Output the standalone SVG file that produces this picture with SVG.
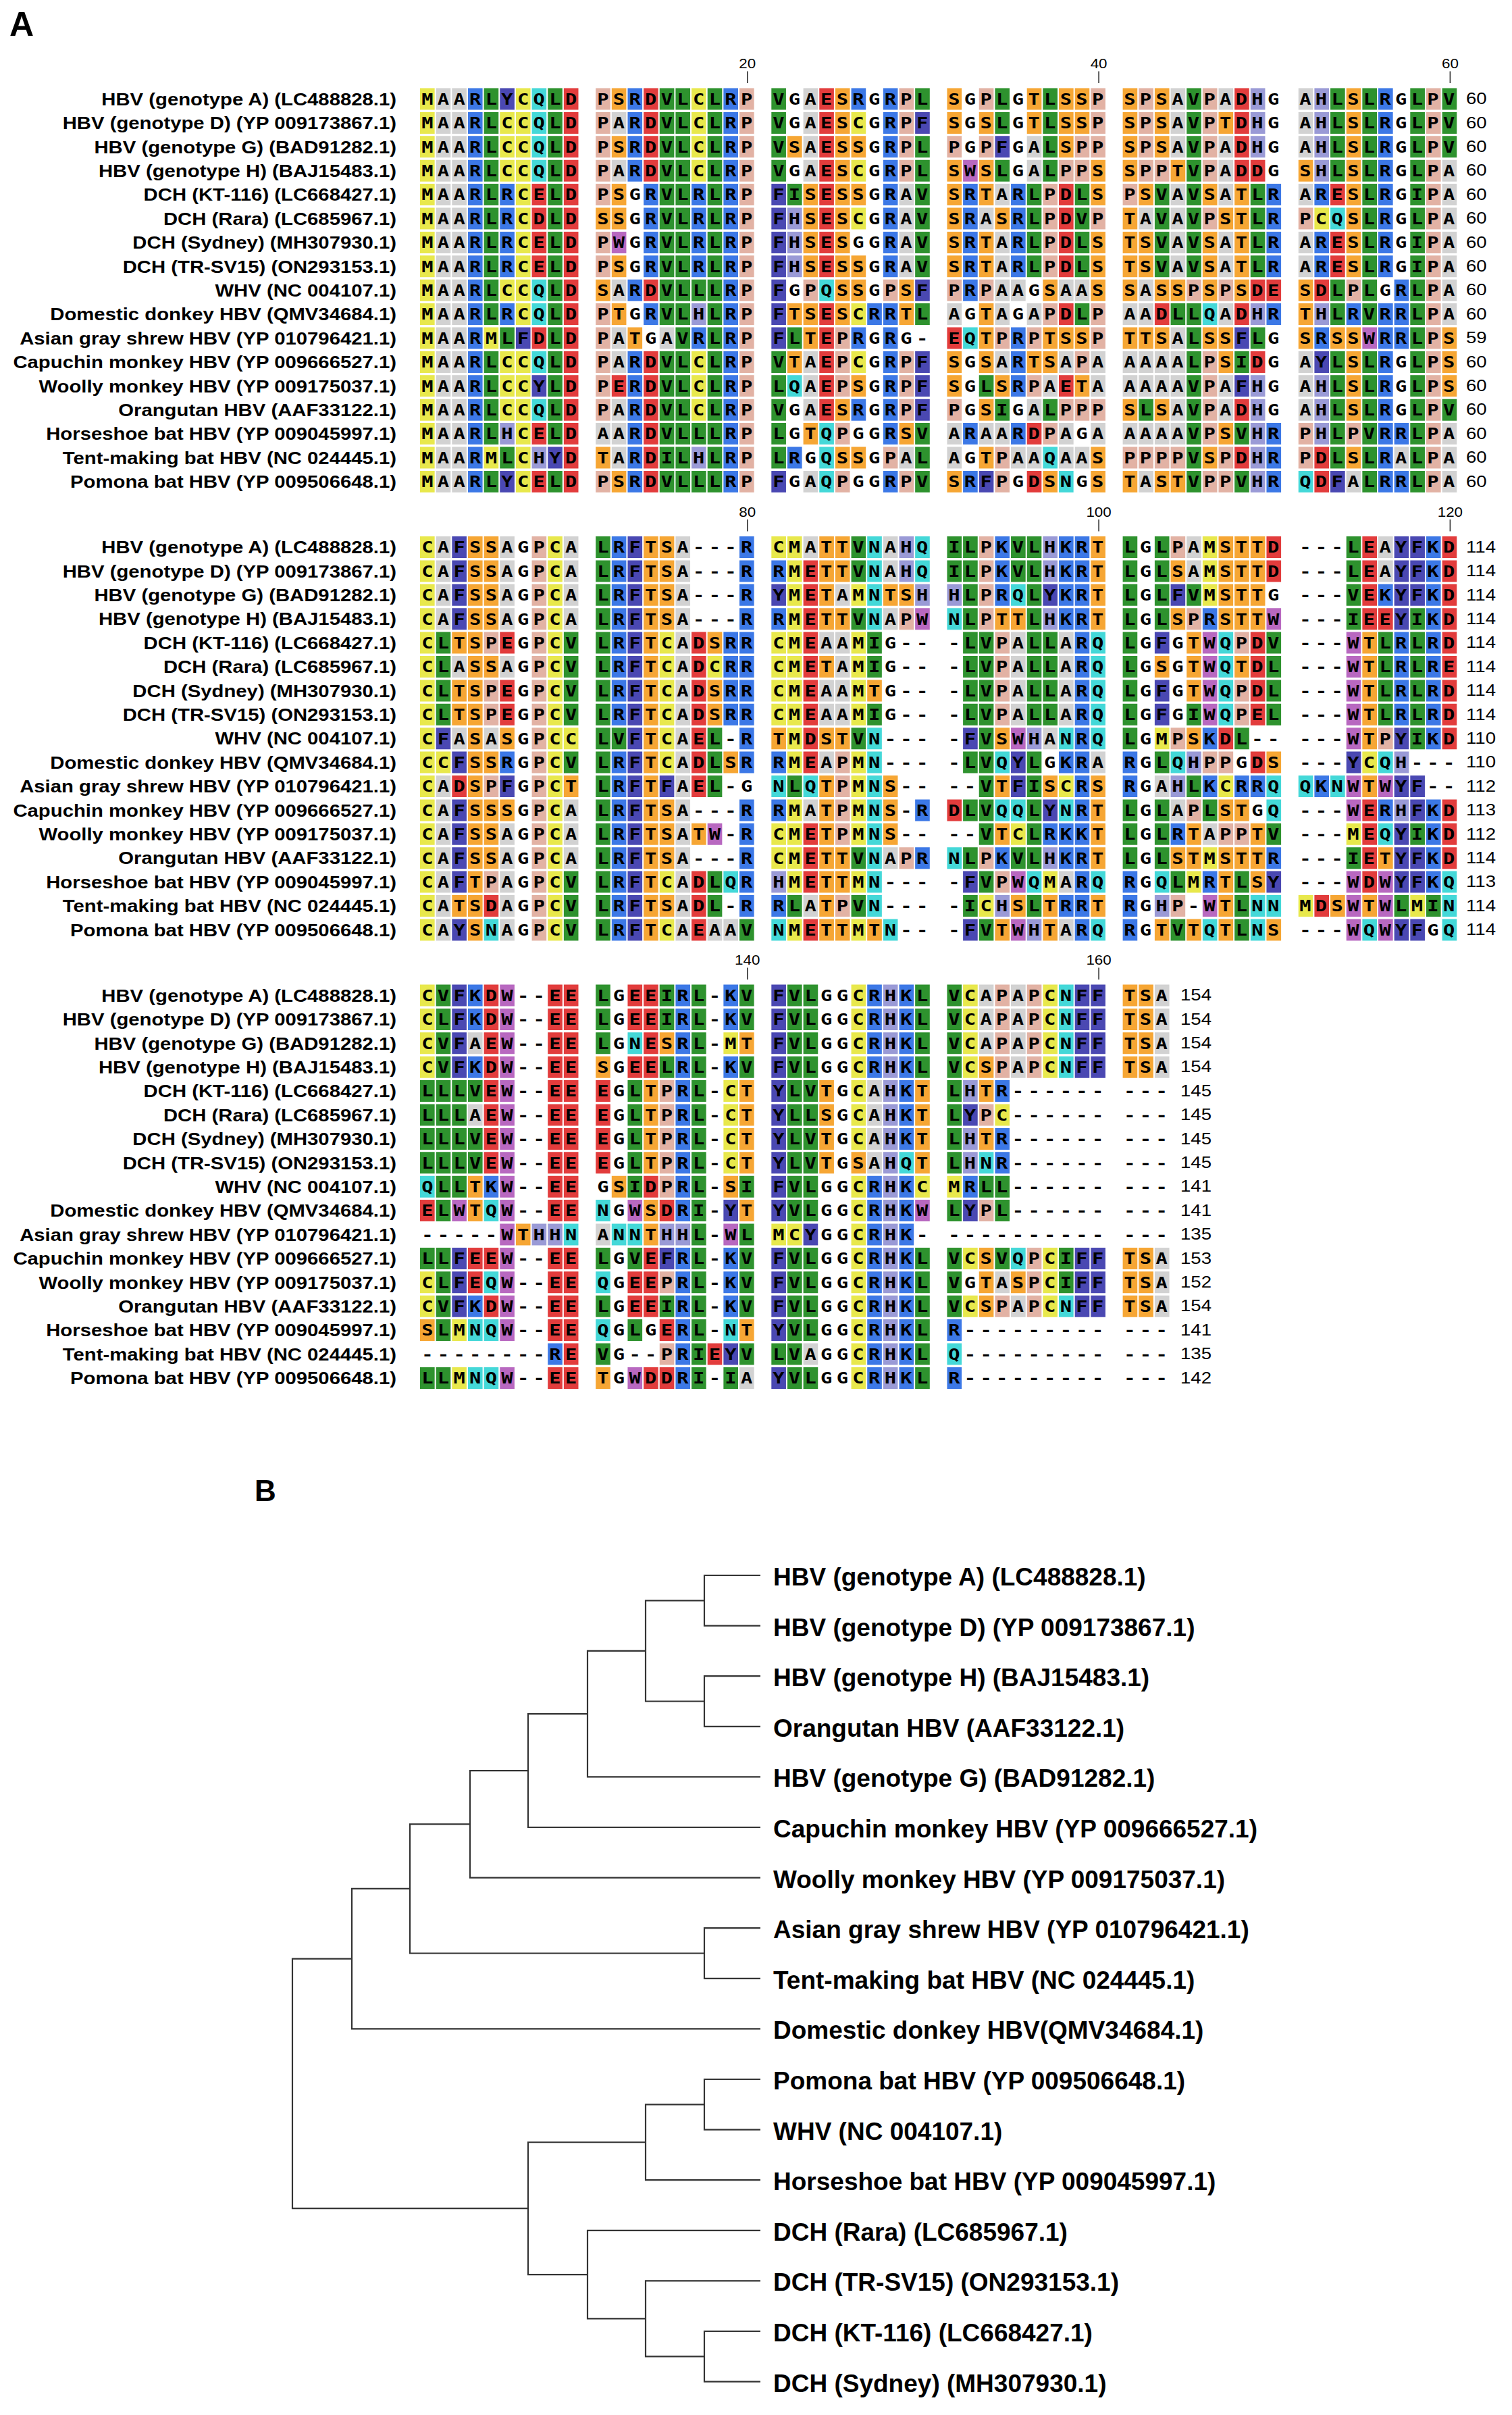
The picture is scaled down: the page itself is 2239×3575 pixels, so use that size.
<svg xmlns="http://www.w3.org/2000/svg" width="2239" height="3575" viewBox="0 0 2239 3575">
<style>
text{font-family:"Liberation Sans",Arial,sans-serif;fill:#000}
.pl{font-weight:bold}
.lab text{font-weight:bold;font-size:26px;text-anchor:end}
.num text{font-size:24px}
.rul text{font-size:20px;text-anchor:middle}
.rul path{stroke:#333;stroke-width:1.6;fill:none}
.seq text{font-family:"DejaVu Sans Mono",monospace;font-weight:bold;font-size:23px;letter-spacing:5.073px}
.bg path{fill:none;stroke-width:.904;stroke-dasharray:.9154 .0846}
.bg .y{stroke:#e8e84c}
.bg .a{stroke:#d2d2d2}
.bg .b{stroke:#3c78e6}
.bg .l{stroke:#2e922e}
.bg .i{stroke:#4a48b2}
.bg .c{stroke:#44d8d8}
.bg .r{stroke:#e23c3c}
.bg .p{stroke:#e2b2a4}
.bg .o{stroke:#f6a634}
.bg .h{stroke:#9a9ad6}
.bg .w{stroke:#b868c0}
.tree path{fill:none;stroke:#333;stroke-width:2.2}
.leaf text{font-weight:bold;font-size:37px}
</style>
<rect width="2239" height="3575" fill="#fff"/>
<text class="pl" x="14" y="53" font-size="50">A</text>
<text class="pl" x="377" y="2222" font-size="44">B</text>

<g id="block1" transform="translate(0,146.5)">
<g class="bg" transform="translate(622,0) scale(23.65,35.4)">
<path class="y" d="M0 0h1M6 0h1M17 0h1M0 1h1M5 1h2M17 1h1M27 1h1M0 2h1M5 2h2M17 2h1M0 3h1M5 3h2M17 3h1M27 3h1M0 4h1M6 4h1M0 5h1M6 5h1M27 5h1M56 5h1M0 6h1M6 6h1M0 7h1M6 7h1M0 8h1M5 8h2M0 9h1M6 9h1M27 9h1M0 10h1M4 10h1M0 11h1M5 11h2M17 11h1M27 11h1M0 12h1M5 12h2M17 12h1M0 13h1M5 13h2M17 13h1M0 14h1M6 14h1M0 15h1M4 15h1M6 15h1M0 16h1M6 16h1"/>
<path class="a" d="M1 0h2M24 0h1M47 0h1M50 0h1M55 0h1M1 1h2M12 1h1M24 1h1M47 1h1M55 1h1M1 2h2M24 2h1M38 2h1M47 2h1M50 2h1M55 2h1M1 3h2M12 3h1M24 3h1M38 3h1M50 3h1M64 3h1M1 4h2M30 4h1M36 4h1M47 4h1M50 4h1M55 4h1M64 4h1M1 5h2M30 5h1M35 5h1M45 5h1M47 5h1M64 5h1M1 6h2M30 6h1M36 6h1M47 6h1M50 6h1M55 6h1M64 6h1M1 7h2M30 7h1M36 7h1M47 7h1M50 7h1M55 7h1M64 7h1M1 8h2M12 8h1M36 8h2M40 8h2M45 8h1M64 8h1M1 9h2M33 9h1M36 9h1M38 9h1M44 9h2M50 9h1M64 9h1M1 10h2M12 10h1M15 10h1M47 10h1M1 11h2M12 11h1M24 11h1M36 11h1M40 11h1M42 11h1M44 11h4M55 11h1M1 12h2M24 12h1M39 12h1M42 12h1M44 12h4M50 12h1M55 12h1M1 13h2M12 13h1M24 13h1M38 13h1M47 13h1M50 13h1M55 13h1M1 14h2M11 14h2M33 14h1M35 14h2M40 14h1M42 14h1M44 14h4M64 14h1M1 15h2M12 15h1M30 15h1M33 15h1M37 15h2M40 15h2M61 15h1M64 15h1M1 16h2M24 16h1M45 16h1M58 16h1M64 16h1"/>
<path class="b" d="M3 0h1M13 0h1M19 0h1M27 0h1M29 0h1M60 0h1M3 1h1M13 1h1M19 1h1M29 1h1M60 1h1M3 2h1M13 2h1M19 2h1M29 2h1M60 2h1M3 3h1M13 3h1M19 3h1M29 3h1M60 3h1M3 4h1M5 4h1M14 4h1M17 4h1M19 4h1M29 4h1M34 4h1M37 4h1M53 4h1M56 4h1M60 4h1M3 5h1M5 5h1M14 5h1M17 5h1M19 5h1M29 5h1M34 5h1M37 5h1M53 5h1M60 5h1M3 6h1M5 6h1M14 6h1M17 6h1M19 6h1M29 6h1M34 6h1M37 6h1M53 6h1M56 6h1M60 6h1M3 7h1M5 7h1M14 7h1M17 7h1M19 7h1M29 7h1M34 7h1M37 7h1M53 7h1M56 7h1M60 7h1M3 8h1M13 8h1M19 8h1M34 8h1M61 8h1M3 9h1M5 9h1M14 9h1M19 9h1M28 9h2M53 9h1M58 9h1M60 9h2M3 10h1M17 10h1M19 10h1M27 10h1M29 10h1M37 10h1M56 10h1M60 10h2M3 11h1M13 11h1M19 11h1M29 11h1M37 11h1M60 11h1M3 12h1M13 12h1M19 12h1M29 12h1M37 12h1M60 12h1M3 13h1M13 13h1M19 13h1M27 13h1M29 13h1M60 13h1M3 14h1M13 14h1M19 14h1M29 14h1M34 14h1M37 14h1M53 14h1M60 14h2M3 15h1M13 15h1M19 15h1M23 15h1M53 15h1M60 15h1M3 16h1M13 16h1M19 16h1M29 16h1M34 16h1M53 16h1M60 16h2"/>
<path class="l" d="M4 0h1M8 0h1M15 0h2M18 0h1M22 0h1M31 0h1M36 0h1M39 0h1M48 0h1M57 0h1M59 0h1M62 0h1M64 0h1M4 1h1M8 1h1M15 1h2M18 1h1M22 1h1M36 1h1M39 1h1M48 1h1M57 1h1M59 1h1M62 1h1M64 1h1M4 2h1M8 2h1M15 2h2M18 2h1M22 2h1M31 2h1M39 2h1M48 2h1M57 2h1M59 2h1M62 2h1M64 2h1M4 3h1M8 3h1M15 3h2M18 3h1M22 3h1M31 3h1M36 3h1M39 3h1M48 3h1M57 3h1M59 3h1M62 3h1M4 4h1M8 4h1M15 4h2M18 4h1M23 4h1M31 4h1M38 4h1M41 4h1M46 4h1M48 4h1M52 4h1M59 4h1M62 4h1M4 5h1M8 5h1M15 5h2M18 5h1M31 5h1M38 5h1M41 5h1M46 5h1M48 5h1M52 5h1M59 5h1M62 5h1M4 6h1M8 6h1M15 6h2M18 6h1M31 6h1M38 6h1M41 6h1M46 6h1M48 6h1M52 6h1M59 6h1M62 6h1M4 7h1M8 7h1M15 7h2M18 7h1M31 7h1M38 7h1M41 7h1M46 7h1M48 7h1M52 7h1M59 7h1M62 7h1M4 8h1M8 8h1M15 8h4M57 8h1M59 8h1M62 8h1M4 9h1M8 9h1M15 9h2M18 9h1M31 9h1M41 9h1M47 9h2M57 9h1M59 9h1M62 9h1M5 10h1M8 10h1M16 10h1M18 10h1M23 10h1M48 10h1M52 10h1M62 10h1M4 11h1M8 11h1M15 11h2M18 11h1M22 11h1M48 11h1M51 11h1M57 11h1M59 11h1M62 11h1M4 12h1M8 12h1M15 12h2M18 12h1M22 12h1M35 12h1M48 12h1M57 12h1M59 12h1M62 12h1M4 13h1M8 13h1M15 13h2M18 13h1M22 13h1M36 13h1M39 13h1M45 13h1M48 13h1M57 13h1M59 13h1M62 13h1M64 13h1M4 14h1M8 14h1M15 14h4M22 14h1M31 14h1M48 14h1M51 14h1M57 14h1M59 14h1M62 14h1M5 15h1M15 15h2M18 15h1M22 15h1M31 15h1M48 15h1M57 15h1M59 15h1M62 15h1M4 16h1M8 16h1M15 16h4M31 16h1M48 16h1M51 16h1M59 16h1M62 16h1"/>
<path class="i" d="M5 0h1M31 1h1M36 2h1M22 4h1M22 5h1M22 6h1M22 7h1M22 8h1M31 8h1M22 9h1M6 10h1M22 10h1M51 10h1M31 11h1M56 11h1M7 12h1M31 12h1M51 12h1M31 13h1M8 15h1M5 16h1M22 16h1M35 16h1M57 16h1"/>
<path class="c" d="M7 0h1M7 1h1M7 2h1M7 3h1M57 5h1M7 8h1M25 8h1M7 9h1M49 9h1M34 10h1M7 11h1M23 12h1M7 13h1M25 14h1M25 15h1M39 15h1M25 16h1M40 16h1M55 16h1"/>
<path class="r" d="M9 0h1M14 0h1M25 0h1M51 0h1M9 1h1M14 1h1M25 1h1M51 1h1M9 2h1M14 2h1M25 2h1M51 2h1M9 3h1M14 3h1M25 3h1M51 3h2M7 4h1M9 4h1M25 4h1M40 4h1M57 4h1M7 5h1M9 5h1M25 5h1M40 5h1M7 6h1M9 6h1M25 6h1M40 6h1M57 6h1M7 7h1M9 7h1M25 7h1M40 7h1M57 7h1M9 8h1M14 8h1M52 8h2M56 8h1M9 9h1M25 9h1M40 9h1M46 9h1M51 9h1M7 10h1M9 10h1M25 10h1M33 10h1M9 11h1M14 11h1M25 11h1M52 11h1M9 12h1M12 12h1M14 12h1M25 12h1M40 12h1M9 13h1M14 13h1M25 13h1M51 13h1M7 14h1M9 14h1M14 14h1M38 14h1M9 15h1M14 15h1M51 15h1M56 15h1M7 16h1M9 16h1M14 16h1M38 16h1M56 16h1"/>
<path class="p" d="M11 0h1M20 0h1M30 0h1M35 0h1M42 0h1M45 0h1M49 0h1M63 0h1M11 1h1M20 1h1M30 1h1M42 1h1M45 1h1M49 1h1M63 1h1M11 2h1M20 2h1M30 2h1M33 2h1M35 2h1M41 2h2M45 2h1M49 2h1M63 2h1M11 3h1M20 3h1M30 3h1M40 3h2M45 3h2M49 3h1M63 3h1M11 4h1M20 4h1M39 4h1M44 4h1M63 4h1M20 5h1M39 5h1M42 5h1M49 5h1M55 5h1M63 5h1M11 6h1M20 6h1M39 6h1M63 6h1M11 7h1M20 7h1M39 7h1M63 7h1M20 8h1M24 8h1M29 8h1M33 8h1M35 8h1M48 8h1M50 8h1M58 8h1M63 8h1M11 9h1M20 9h1M39 9h1M42 9h1M63 9h1M11 10h1M20 10h1M26 10h1M36 10h1M38 10h1M42 10h1M63 10h1M11 11h1M20 11h1M26 11h1M30 11h1M41 11h1M49 11h1M63 11h1M11 12h1M20 12h1M26 12h1M30 12h1M38 12h1M49 12h1M63 12h1M11 13h1M20 13h1M30 13h1M33 13h1M40 13h3M49 13h1M63 13h1M20 14h1M26 14h1M39 14h1M49 14h1M55 14h1M58 14h1M63 14h1M20 15h1M29 15h1M36 15h1M44 15h4M50 15h1M55 15h1M63 15h1M11 16h1M20 16h1M26 16h1M30 16h1M36 16h1M49 16h2M63 16h1"/>
<path class="o" d="M12 0h1M26 0h1M33 0h1M38 0h1M40 0h2M44 0h1M46 0h1M58 0h1M26 1h1M33 1h1M35 1h1M38 1h1M40 1h2M44 1h1M46 1h1M50 1h1M58 1h1M12 2h1M23 2h1M26 2h2M40 2h1M44 2h1M46 2h1M58 2h1M26 3h1M33 3h1M35 3h1M42 3h1M44 3h1M47 3h1M55 3h1M58 3h1M12 4h1M24 4h1M26 4h2M33 4h1M35 4h1M42 4h1M45 4h1M49 4h1M51 4h1M58 4h1M11 5h2M24 5h1M26 5h1M33 5h1M36 5h1M44 5h1M50 5h2M58 5h1M24 6h1M26 6h1M33 6h1M35 6h1M42 6h1M44 6h2M49 6h1M51 6h1M58 6h1M12 7h1M24 7h1M26 7h2M33 7h1M35 7h1M42 7h1M44 7h2M49 7h1M51 7h1M58 7h1M11 8h1M26 8h2M30 8h1M39 8h1M42 8h1M44 8h1M46 8h2M49 8h1M51 8h1M55 8h1M12 9h1M23 9h2M26 9h1M30 9h1M35 9h1M55 9h1M13 10h1M24 10h1M35 10h1M39 10h3M44 10h3M49 10h2M55 10h1M57 10h2M64 10h1M23 11h1M33 11h1M35 11h1M38 11h2M50 11h1M58 11h1M64 11h1M27 12h1M33 12h1M36 12h1M41 12h1M58 12h1M64 12h1M26 13h1M35 13h1M44 13h1M46 13h1M58 13h1M24 14h1M30 14h1M50 14h1M11 15h1M26 15h2M35 15h1M42 15h1M49 15h1M58 15h1M12 16h1M33 16h1M39 16h1M42 16h1M44 16h1M46 16h2"/>
<path class="h" d="M52 0h1M56 0h1M52 1h1M56 1h1M52 2h1M56 2h1M56 3h1M23 5h1M23 6h1M23 7h1M17 9h1M52 9h1M56 9h1M52 12h1M56 12h1M52 13h1M56 13h1M5 14h1M52 14h1M56 14h1M7 15h1M17 15h1M52 15h1M52 16h1"/>
<path class="w" d="M34 3h1M12 6h1M59 10h1"/>
</g>
<g class="seq" transform="translate(624.15,0.6) scale(1.25,1)">
<text y="7.8">MAARLYCQLD PSRDVLCLRP VGAESRGRPL SGPLGTLSSP SPSAVPADHG AHLSLRGLPV</text>
<text y="43.2">MAARLCCQLD PARDVLCLRP VGAESCGRPF SGSLGTLSSP SPSAVPTDHG AHLSLRGLPV</text>
<text y="78.6">MAARLCCQLD PSRDVLCLRP VSAESSGRPL PGPFGALSPP SPSAVPADHG AHLSLRGLPV</text>
<text y="114">MAARLCCQLD PARDVLCLRP VGAESCGRPL SWSLGALPPS SPPTVPADDG SHLSLRGLPA</text>
<text y="149.4">MAARLRCELD PSGRVLRLRP FISESSGRAV SRTARLPDLS PSVAVSATLR ARESLRGIPA</text>
<text y="184.8">MAARLRCDLD SSGRVLRLRP FHSESCGRAV SRASRLPDVP TAVAVPSTLR PCQSLRGLPA</text>
<text y="220.2">MAARLRCELD PWGRVLRLRP FHSESGGRAV SRTARLPDLS TSVAVSATLR ARESLRGIPA</text>
<text y="255.6">MAARLRCELD PSGRVLRLRP FHSESSGRAV SRTARLPDLS TSVAVSATLR ARESLRGIPA</text>
<text y="291">MAARLCCQLD SARDVLLLRP FGPQSSGPSF PRPAAGSAAS SASSPSPSDE SDLPLGRLPA</text>
<text y="326.4">MAARLRCQLD PTGRVLHLRP FTSESCRRTL AGTAGAPDLP AADLLQADHR THLRVRRLPA</text>
<text y="361.8">MAARMLFDLD PATGAVRLRP FLTEPRGRG- EQTPRPTSSP TTSALSSFLG SRSSWRRLPS</text>
<text y="397.2">MAARLCCQLD PARDVLCLRP VTAEPCGRPF SGSARTSAPA AAAALPSIDG AYLSLRGLPS</text>
<text y="432.6">MAARLCCYLD PERDVLCLRP LQAEPSGRPF SGLSRPAETA AAAAVPAFHG AHLSLRGLPS</text>
<text y="468">MAARLCCQLD PARDVLCLRP VGAESRGRPF PGSIGALPPP SLSAVPADHG AHLSLRGLPV</text>
<text y="503.4">MAARLHCELD AARDVLLLRP LGTQPGGRSV ARAARDPAGA AAAAVPSVHR PHLPVRRLPA</text>
<text y="538.8">MAARMLCHYD TARDILHLRP LRGQSSGPAL AGTPAAQAAS PPPPVSPDHR PDLSLRALPA</text>
<text y="574.2">MAARLYCELD PSRDVLLLRP FGAQPGGRPV SRFPGDSNGS TASTVPPVHR QDFALRRLPA</text>
</g>
<g class="lab" transform="translate(587,1.5) scale(1.127,1)">
<text y="7.8">HBV (genotype A) (LC488828.1)</text>
<text y="43.2">HBV (genotype D) (YP 009173867.1)</text>
<text y="78.6">HBV (genotype G) (BAD91282.1)</text>
<text y="114">HBV (genotype H) (BAJ15483.1)</text>
<text y="149.4">DCH (KT-116) (LC668427.1)</text>
<text y="184.8">DCH (Rara) (LC685967.1)</text>
<text y="220.2">DCH (Sydney) (MH307930.1)</text>
<text y="255.6">DCH (TR-SV15) (ON293153.1)</text>
<text y="291">WHV (NC 004107.1)</text>
<text y="326.4">Domestic donkey HBV (QMV34684.1)</text>
<text y="361.8">Asian gray shrew HBV (YP 010796421.1)</text>
<text y="397.2">Capuchin monkey HBV (YP 009666527.1)</text>
<text y="432.6">Woolly monkey HBV (YP 009175037.1)</text>
<text y="468">Orangutan HBV (AAF33122.1)</text>
<text y="503.4">Horseshoe bat HBV (YP 009045997.1)</text>
<text y="538.8">Tent-making bat HBV (NC 024445.1)</text>
<text y="574.2">Pomona bat HBV (YP 009506648.1)</text>
</g>
<g class="num" transform="translate(2171,0) scale(1.15,1)">
<text y="7.8">60</text><text y="43.2">60</text><text y="78.6">60</text><text y="114">60</text><text y="149.4">60</text><text y="184.8">60</text><text y="220.2">60</text><text y="255.6">60</text><text y="291">60</text><text y="326.4">60</text><text y="361.8">59</text><text y="397.2">60</text><text y="432.6">60</text><text y="468">60</text><text y="503.4">60</text><text y="538.8">60</text><text y="574.2">60</text>
</g>
<g class="rul">
<path d="M1106.8 -41V-23.5M1627.1 -41V-23.5M2147.4 -41V-23.5"/>
<text transform="translate(1106.8 -45.5) scale(1.12 1)">20</text>
<text transform="translate(1627.1 -45.5) scale(1.12 1)">40</text>
<text transform="translate(2147.4 -45.5) scale(1.12 1)">60</text>
</g>
</g>

<g id="block2" transform="translate(0,810)">
<g class="bg" transform="translate(622,0) scale(23.65,35.4)">
<path class="y" d="M0 0h1M8 0h1M22 0h2M49 0h1M0 1h1M8 1h1M23 1h1M49 1h1M0 2h1M8 2h1M23 2h1M27 2h1M49 2h1M0 3h1M8 3h1M23 3h1M0 4h1M8 4h1M15 4h1M22 4h2M27 4h1M0 5h1M8 5h1M15 5h1M18 5h1M22 5h2M27 5h1M0 6h1M8 6h1M15 6h1M22 6h2M27 6h1M0 7h1M8 7h1M15 7h1M22 7h2M27 7h1M0 8h1M8 8h2M15 8h1M23 8h1M46 8h1M0 9h2M8 9h1M15 9h1M23 9h1M27 9h1M59 9h1M0 10h1M8 10h1M27 10h1M40 10h1M50 10h1M0 11h1M8 11h1M23 11h1M27 11h1M0 12h1M8 12h1M22 12h2M27 12h1M37 12h1M58 12h1M0 13h1M8 13h1M22 13h2M49 13h1M0 14h1M8 14h1M15 14h1M23 14h1M27 14h1M39 14h1M48 14h1M0 15h1M8 15h1M35 15h1M55 15h1M62 15h1M0 16h1M8 16h1M15 16h1M23 16h1M27 16h1"/>
<path class="a" d="M1 0h1M5 0h1M9 0h1M16 0h1M24 0h1M29 0h1M48 0h1M60 0h1M1 1h1M5 1h1M9 1h1M16 1h1M29 1h1M48 1h1M60 1h1M1 2h1M5 2h1M9 2h1M16 2h1M26 2h1M1 3h1M5 3h1M9 3h1M16 3h1M29 3h1M16 4h1M25 4h2M37 4h1M40 4h1M2 5h1M5 5h1M16 5h1M26 5h1M37 5h1M40 5h1M16 6h1M25 6h2M37 6h1M40 6h1M16 7h1M25 7h2M37 7h1M40 7h1M2 8h1M4 8h1M16 8h1M39 8h1M16 9h1M25 9h1M42 9h1M1 10h1M16 10h1M46 10h1M1 11h1M9 11h1M16 11h1M24 11h1M47 11h1M1 12h1M5 12h1M9 12h1M16 12h1M49 12h1M1 13h1M5 13h1M9 13h1M16 13h1M29 13h1M1 14h1M5 14h1M16 14h1M40 14h1M1 15h1M5 15h1M16 15h1M24 15h1M1 16h1M5 16h1M16 16h1M18 16h2M40 16h1"/>
<path class="i" d="M2 0h1M13 0h1M61 0h2M2 1h1M13 1h1M61 1h2M2 2h1M13 2h1M22 2h1M39 2h1M47 2h1M61 2h2M2 3h1M13 3h1M61 3h1M13 4h1M46 4h1M13 5h1M13 6h1M46 6h1M13 7h1M46 7h1M1 8h1M13 8h1M34 8h1M61 8h1M2 9h1M13 9h1M37 9h1M58 9h1M5 10h1M13 10h1M15 10h1M37 10h1M61 10h2M2 11h1M13 11h1M39 11h1M62 11h1M2 12h1M13 12h1M61 12h1M2 13h1M13 13h1M61 13h2M2 14h1M13 14h1M34 14h1M53 14h1M61 14h2M13 15h1M2 16h1M13 16h1M34 16h1M61 16h2"/>
<path class="o" d="M3 0h2M14 0h2M25 0h2M42 0h1M50 0h3M3 1h2M14 1h2M25 1h2M42 1h1M47 1h1M50 1h3M3 2h2M14 2h2M25 2h1M29 2h2M42 2h1M50 2h3M3 3h2M14 3h2M25 3h2M36 3h2M42 3h1M47 3h1M50 3h3M2 4h2M14 4h1M18 4h1M48 4h1M59 4h1M3 5h2M14 5h1M25 5h1M46 5h1M48 5h1M51 5h1M59 5h1M2 6h2M14 6h1M18 6h1M28 6h1M48 6h1M59 6h1M2 7h2M14 7h1M18 7h1M59 7h1M3 8h1M5 8h1M14 8h1M22 8h1M25 8h2M36 8h1M48 8h1M59 8h1M3 9h2M14 9h1M19 9h1M53 9h1M3 10h1M9 10h1M14 10h1M25 10h1M29 10h1M36 10h1M39 10h1M42 10h1M59 10h1M3 11h3M14 11h2M25 11h1M29 11h1M42 11h1M50 11h2M3 12h2M14 12h2M17 12h1M25 12h1M29 12h1M36 12h1M42 12h1M48 12h1M52 12h1M3 13h2M14 13h2M25 13h2M42 13h1M47 13h2M50 13h3M60 13h1M3 14h1M14 14h1M25 14h2M50 14h1M52 14h1M2 15h2M14 15h2M25 15h1M37 15h1M39 15h1M42 15h1M50 15h1M57 15h1M59 15h1M3 16h1M14 16h1M25 16h2M28 16h1M36 16h1M39 16h1M46 16h1M48 16h1M50 16h1M53 16h1"/>
<path class="p" d="M7 0h1M35 0h1M47 0h1M7 1h1M35 1h1M7 2h1M35 2h1M7 3h1M30 3h1M35 3h1M48 3h1M4 4h1M7 4h1M36 4h1M51 4h1M7 5h1M36 5h1M4 6h1M7 6h1M36 6h1M51 6h1M4 7h1M7 7h1M36 7h1M51 7h1M7 8h1M47 8h1M60 8h1M7 9h1M26 9h1M49 9h2M4 10h1M7 10h1M26 10h1M7 11h1M26 11h1M48 11h1M7 12h1M26 12h1M50 12h2M7 13h1M30 13h1M35 13h1M4 14h1M7 14h1M36 14h1M7 15h1M26 15h1M47 15h1M7 16h1"/>
<path class="l" d="M11 0h1M27 0h1M33 0h2M37 0h2M44 0h1M46 0h1M58 0h1M11 1h1M27 1h1M33 1h2M37 1h2M44 1h1M46 1h1M58 1h1M11 2h1M34 2h1M38 2h1M44 2h1M46 2h1M48 2h1M58 2h1M11 3h1M27 3h1M34 3h1M38 3h1M44 3h1M46 3h1M58 3h1M62 3h1M1 4h1M9 4h1M11 4h1M28 4h1M34 4h2M38 4h2M44 4h1M53 4h1M60 4h1M62 4h1M1 5h1M9 5h1M11 5h1M28 5h1M34 5h2M38 5h2M44 5h1M53 5h1M60 5h1M62 5h1M1 6h1M9 6h1M11 6h1M34 6h2M38 6h2M44 6h1M53 6h1M60 6h1M62 6h1M1 7h1M9 7h1M11 7h1M28 7h1M34 7h2M38 7h2M44 7h1M48 7h1M53 7h1M60 7h1M62 7h1M11 8h2M18 8h1M27 8h1M35 8h1M44 8h1M51 8h1M62 8h1M9 9h1M11 9h1M18 9h1M34 9h2M38 9h1M46 9h1M11 10h1M18 10h1M23 10h1M35 10h1M38 10h1M48 10h1M11 11h1M34 11h2M38 11h1M44 11h1M46 11h1M49 11h1M11 12h1M35 12h1M38 12h1M44 12h1M46 12h1M53 12h1M62 12h1M11 13h1M27 13h1M34 13h1M37 13h2M44 13h1M46 13h1M58 13h1M9 14h1M11 14h1M18 14h1M35 14h1M47 14h1M51 14h1M9 15h1M11 15h1M18 15h1M23 15h1M27 15h1M34 15h1M38 15h1M51 15h1M61 15h1M63 15h1M9 16h1M11 16h1M20 16h1M35 16h1M47 16h1M51 16h1"/>
<path class="b" d="M12 0h1M20 0h1M36 0h1M40 0h2M63 0h1M12 1h1M20 1h1M22 1h1M36 1h1M40 1h2M63 1h1M12 2h1M20 2h1M36 2h1M40 2h2M60 2h1M63 2h1M12 3h1M20 3h1M22 3h1M40 3h2M49 3h1M63 3h1M12 4h1M19 4h2M41 4h1M61 4h1M63 4h1M12 5h1M19 5h2M41 5h1M61 5h1M63 5h1M12 6h1M19 6h2M41 6h1M61 6h1M63 6h1M12 7h1M19 7h2M41 7h1M61 7h1M63 7h1M20 8h1M41 8h1M49 8h1M63 8h1M5 9h1M12 9h1M20 9h1M22 9h1M40 9h2M44 9h1M12 10h1M41 10h1M44 10h1M49 10h1M51 10h2M56 10h1M12 11h1M20 11h1M22 11h1M31 11h1M41 11h1M60 11h1M63 11h1M12 12h1M20 12h1M39 12h3M47 12h1M63 12h1M12 13h1M20 13h1M31 13h1M36 13h1M40 13h2M53 13h1M63 13h1M12 14h1M20 14h1M41 14h1M44 14h1M49 14h1M63 14h1M12 15h1M20 15h1M22 15h1M40 15h2M44 15h1M12 16h1M41 16h1M44 16h1"/>
<path class="c" d="M28 0h1M31 0h1M28 1h1M31 1h1M28 2h1M37 2h1M28 3h1M33 3h1M42 4h1M50 4h1M42 5h1M50 5h1M42 6h1M50 6h1M42 7h1M50 7h1M28 8h1M40 8h1M42 8h1M28 9h1M36 9h1M47 9h1M60 9h1M22 10h1M24 10h1M28 10h1M53 10h1M55 10h1M57 10h1M28 11h1M36 11h2M40 11h1M53 11h1M28 12h1M60 12h1M28 13h1M33 13h1M19 14h1M28 14h1M38 14h1M42 14h1M46 14h1M64 14h1M28 15h1M52 15h2M64 15h1M4 16h1M22 16h1M29 16h1M42 16h1M49 16h1M52 16h1M59 16h1M64 16h1"/>
<path class="r" d="M53 0h1M59 0h1M64 0h1M24 1h1M53 1h1M59 1h1M64 1h1M24 2h1M59 2h1M64 2h1M24 3h1M59 3h2M64 3h1M5 4h1M17 4h1M24 4h1M52 4h1M64 4h1M17 5h1M24 5h1M52 5h1M64 5h1M5 6h1M17 6h1M24 6h1M52 6h1M64 6h1M5 7h1M17 7h1M24 7h1M52 7h1M64 7h1M17 8h1M24 8h1M50 8h1M64 8h1M17 9h1M24 9h1M52 9h1M2 10h1M17 10h1M33 11h1M59 11h1M64 11h1M24 12h1M59 12h1M64 12h1M24 13h1M59 13h1M64 13h1M17 14h1M24 14h1M59 14h1M4 15h1M17 15h1M56 15h1M17 16h1M24 16h1"/>
<path class="h" d="M30 0h1M39 0h1M30 1h1M39 1h1M31 2h1M33 2h1M39 3h1M38 8h1M48 9h1M61 9h1M47 10h1M61 11h1M39 13h1M22 14h1M36 15h1M46 15h1M38 16h1"/>
<path class="w" d="M31 3h1M53 3h1M49 4h1M58 4h1M49 5h1M58 5h1M49 6h1M58 6h1M49 7h1M58 7h1M37 8h1M58 8h1M58 10h1M60 10h1M58 11h1M18 12h1M37 14h1M58 14h1M60 14h1M49 15h1M58 15h1M60 15h1M37 16h1M58 16h1M60 16h1"/>
</g>
<g class="seq" transform="translate(624.15,0.6) scale(1.25,1)">
<text y="7.8">CAFSSAGPCA LRFTSA---R CMATTVNAHQ ILPKVLHKRT LGLPAMSTTD ---LEAYFKD</text>
<text y="43.2">CAFSSAGPCA LRFTSA---R RMETTVNAHQ ILPKVLHKRT LGLSAMSTTD ---LEAYFKD</text>
<text y="78.6">CAFSSAGPCA LRFTSA---R YMETAMNTSH HLPRQLYKRT LGLFVMSTTG ---VEKYFKD</text>
<text y="114">CAFSSAGPCA LRFTSA---R RMETTVNAPW NLPTTLHKRT LGLSPRSTTW ---IEEYIKD</text>
<text y="149.4">CLTSPEGPCV LRFTCADSRR CMEAAMIG-- -LVPALLARQ LGFGTWQPDV ---WTLRLRD</text>
<text y="184.8">CLASSAGPCV LRFTCADCRR CMETAMIG-- -LVPALLARQ LGSGTWQTDL ---WTLRLRE</text>
<text y="220.2">CLTSPEGPCV LRFTCADSRR CMEAAMTG-- -LVPALLARQ LGFGTWQPDL ---WTLRLRD</text>
<text y="255.6">CLTSPEGPCV LRFTCADSRR CMEAAMIG-- -LVPALLARQ LGFGIWQPEL ---WTLRLRD</text>
<text y="291">CFASASGPCC LVFTCAEL-R TMDSTVN--- -FVSWHANRQ LGMPSKDL-- ---WTPYIKD</text>
<text y="326.4">CCFSSRGPCV LRFTCADLSR RMEAPMN--- -LVQYLGKRA RGLQHPPGDS ---YCQH---</text>
<text y="361.8">CADSPFGPCT LRFTFAEL-G NLQTPMNS-- --VTFISCRS RGAHLKCRRQ QKNWTWYF--</text>
<text y="397.2">CAFSSSGPCA LRFTSA---R RMATPMNS-R DLVQQLYNRT LGLAPLSTGQ ---WERHFKD</text>
<text y="432.6">CAFSSAGPCA LRFTSATW-R CMETPMNS-- --VTCLRKKT LGLRTAPPTV ---MEQYIKD</text>
<text y="468">CAFSSAGPCA LRFTSA---R CMETTVNAPR NLPKVLHKRT LGLSTMSTTR ---IETYFKD</text>
<text y="503.4">CAFTPAGPCV LRFTCADLQR HMETTMN--- -FVPWQMARQ RGQLMRTLSY ---WDWYFKQ</text>
<text y="538.8">CATSDAGPCV LRFTSADL-R RLATPVN--- -ICHSLTRRT RGHP-WTLNN MDSWTWLMIN</text>
<text y="574.2">CAYSNAGPCV LRFTCAEAAV NMETTMTN-- -FVTWHTARQ RGTVTQTLNS ---WQWYFGQ</text>
</g>
<g class="lab" transform="translate(587,1.5) scale(1.127,1)">
<text y="7.8">HBV (genotype A) (LC488828.1)</text>
<text y="43.2">HBV (genotype D) (YP 009173867.1)</text>
<text y="78.6">HBV (genotype G) (BAD91282.1)</text>
<text y="114">HBV (genotype H) (BAJ15483.1)</text>
<text y="149.4">DCH (KT-116) (LC668427.1)</text>
<text y="184.8">DCH (Rara) (LC685967.1)</text>
<text y="220.2">DCH (Sydney) (MH307930.1)</text>
<text y="255.6">DCH (TR-SV15) (ON293153.1)</text>
<text y="291">WHV (NC 004107.1)</text>
<text y="326.4">Domestic donkey HBV (QMV34684.1)</text>
<text y="361.8">Asian gray shrew HBV (YP 010796421.1)</text>
<text y="397.2">Capuchin monkey HBV (YP 009666527.1)</text>
<text y="432.6">Woolly monkey HBV (YP 009175037.1)</text>
<text y="468">Orangutan HBV (AAF33122.1)</text>
<text y="503.4">Horseshoe bat HBV (YP 009045997.1)</text>
<text y="538.8">Tent-making bat HBV (NC 024445.1)</text>
<text y="574.2">Pomona bat HBV (YP 009506648.1)</text>
</g>
<g class="num" transform="translate(2171,0) scale(1.15,1)">
<text y="7.8">114</text><text y="43.2">114</text><text y="78.6">114</text><text y="114">114</text><text y="149.4">114</text><text y="184.8">114</text><text y="220.2">114</text><text y="255.6">114</text><text y="291">110</text><text y="326.4">110</text><text y="361.8">112</text><text y="397.2">113</text><text y="432.6">112</text><text y="468">114</text><text y="503.4">113</text><text y="538.8">114</text><text y="574.2">114</text>
</g>
<g class="rul">
<path d="M1106.8 -41V-23.5M1627.1 -41V-23.5M2147.4 -41V-23.5"/>
<text transform="translate(1106.8 -45.5) scale(1.12 1)">80</text>
<text transform="translate(1627.1 -45.5) scale(1.12 1)">100</text>
<text transform="translate(2147.4 -45.5) scale(1.12 1)">120</text>
</g>
</g>

<g id="block3" transform="translate(0,1473.5)">
<g class="bg" transform="translate(622,0) scale(23.65,35.4)">
<path class="y" d="M0 0h1M27 0h1M34 0h1M39 0h1M0 1h1M27 1h1M34 1h1M39 1h1M0 2h1M19 2h1M27 2h1M34 2h1M39 2h1M0 3h1M27 3h1M34 3h1M39 3h1M19 4h1M27 4h1M19 5h1M27 5h1M36 5h1M19 6h1M27 6h1M19 7h1M27 8h1M31 8h1M33 8h1M27 9h1M22 10h2M27 10h1M27 11h1M34 11h1M39 11h1M0 12h1M27 12h1M39 12h1M0 13h1M27 13h1M34 13h1M39 13h1M2 14h1M27 14h1M27 15h1M2 16h1M27 16h1"/>
<path class="l" d="M1 0h1M11 0h1M15 0h1M17 0h1M20 0h1M23 0h2M31 0h1M33 0h1M1 1h1M11 1h1M15 1h1M17 1h1M20 1h1M23 1h2M31 1h1M33 1h1M1 2h1M11 2h1M17 2h1M23 2h2M31 2h1M33 2h1M1 3h1M15 3h1M17 3h1M20 3h1M23 3h2M31 3h1M33 3h1M0 4h4M13 4h1M17 4h1M23 4h2M33 4h1M0 5h3M13 5h1M17 5h1M23 5h2M33 5h1M0 6h4M13 6h1M17 6h1M23 6h2M33 6h1M0 7h4M13 7h1M17 7h1M23 7h2M33 7h1M1 8h2M13 8h1M17 8h1M20 8h1M23 8h2M35 8h2M1 9h1M17 9h1M23 9h2M33 9h1M36 9h1M17 10h1M20 10h1M0 11h2M11 11h1M13 11h1M17 11h1M20 11h1M23 11h2M31 11h1M33 11h1M36 11h1M40 11h1M1 12h1M17 12h1M20 12h1M23 12h2M31 12h1M33 12h1M40 12h1M1 13h1M11 13h1M15 13h1M17 13h1M20 13h1M23 13h2M31 13h1M33 13h1M1 14h1M13 14h1M17 14h1M23 14h2M31 14h1M11 15h1M17 15h1M20 15h1M22 15h2M31 15h1M0 16h2M17 16h1M19 16h1M23 16h2M31 16h1"/>
<path class="i" d="M2 0h1M22 0h1M41 0h2M2 1h1M22 1h1M41 1h2M2 2h1M22 2h1M41 2h2M2 3h1M22 3h1M41 3h2M22 4h1M22 5h1M34 5h1M22 6h1M22 7h1M22 8h1M19 9h1M22 9h1M34 9h1M24 10h1M2 11h1M15 11h1M22 11h1M41 11h2M2 12h1M22 12h1M41 12h2M2 13h1M22 13h1M41 13h2M22 14h1M19 15h1M22 16h1"/>
<path class="b" d="M3 0h1M16 0h1M19 0h1M28 0h1M30 0h1M3 1h1M16 1h1M19 1h1M28 1h1M30 1h1M16 2h1M28 2h1M30 2h1M3 3h1M16 3h1M19 3h1M28 3h1M30 3h1M16 4h1M30 4h1M36 4h1M16 5h1M30 5h1M16 6h1M30 6h1M36 6h1M16 7h1M36 7h1M4 8h1M16 8h1M28 8h1M30 8h1M34 8h1M16 9h1M28 9h1M30 9h1M28 10h1M30 10h1M16 11h1M19 11h1M28 11h1M30 11h1M16 12h1M19 12h1M28 12h1M30 12h1M3 13h1M16 13h1M19 13h1M28 13h1M30 13h1M16 14h1M28 14h1M30 14h1M33 14h1M8 15h1M16 15h1M28 15h1M30 15h1M16 16h1M28 16h1M30 16h1M33 16h1"/>
<path class="r" d="M4 0h1M8 0h2M13 0h2M4 1h1M8 1h2M13 1h2M4 2h1M8 2h2M14 2h1M4 3h1M8 3h2M13 3h2M4 4h1M8 4h2M11 4h1M4 5h1M8 5h2M11 5h1M4 6h1M8 6h2M11 6h1M4 7h1M8 7h2M11 7h1M8 8h2M14 8h1M0 9h1M8 9h2M15 9h1M3 11h2M8 11h2M14 11h1M3 12h1M8 12h2M13 12h2M4 13h1M8 13h2M13 13h2M8 14h2M15 14h1M9 15h1M18 15h1M8 16h2M14 16h2"/>
<path class="w" d="M5 0h1M5 1h1M5 2h1M5 3h1M5 4h1M5 5h1M5 6h1M5 7h1M5 8h1M2 9h1M5 9h1M13 9h1M31 9h1M5 10h1M19 10h1M5 11h1M5 12h1M5 13h1M5 14h1M5 16h1M13 16h1"/>
<path class="h" d="M29 0h1M29 1h1M29 2h1M29 3h1M29 4h1M34 4h1M29 5h1M29 6h1M34 6h1M29 7h1M34 7h1M29 8h1M29 9h1M7 10h2M15 10h2M29 10h1M29 11h1M29 12h1M29 13h1M29 14h1M29 15h1M29 16h1"/>
<path class="a" d="M35 0h1M37 0h1M46 0h1M35 1h1M37 1h1M46 1h1M3 2h1M35 2h1M37 2h1M46 2h1M37 3h1M46 3h1M28 4h1M3 5h1M28 5h1M28 6h1M28 7h1M11 10h1M46 11h1M36 12h1M46 12h1M37 13h1M46 13h1M24 15h1M20 16h1"/>
<path class="p" d="M36 0h1M38 0h1M36 1h1M38 1h1M36 2h1M38 2h1M36 3h1M38 3h1M15 4h1M15 5h1M35 5h1M15 6h1M15 7h1M15 8h1M35 9h1M38 11h1M15 12h1M38 12h1M36 13h1M38 13h1M15 15h1"/>
<path class="c" d="M40 0h1M40 1h1M13 2h1M40 2h1M40 3h1M30 7h1M35 7h1M0 8h1M4 9h1M11 9h1M9 10h1M12 10h2M37 11h1M4 12h1M11 12h1M40 13h1M3 14h2M11 14h1M19 14h1M33 15h1M3 16h2"/>
<path class="o" d="M44 0h2M44 1h2M15 2h1M20 2h1M44 2h2M11 3h1M35 3h1M44 3h2M14 4h1M20 4h1M25 4h1M31 4h1M35 4h1M14 5h1M20 5h1M25 5h1M31 5h1M14 6h1M20 6h1M25 6h1M31 6h1M35 6h1M14 7h1M20 7h1M25 7h1M27 7h1M31 7h1M3 8h1M12 8h1M19 8h1M3 9h1M14 9h1M20 9h1M6 10h1M14 10h1M35 11h1M44 11h2M35 12h1M37 12h1M44 12h2M35 13h1M44 13h2M0 14h1M20 14h1M11 16h1"/>
</g>
<g class="seq" transform="translate(624.15,0.6) scale(1.25,1)">
<text y="7.8">CVFKDW--EE LGEEIRL-KV FVLGGCRHKL VCAPAPCNFF TSA</text>
<text y="43.2">CLFKDW--EE LGEEIRL-KV FVLGGCRHKL VCAPAPCNFF TSA</text>
<text y="78.6">CVFAEW--EE LGNESRL-MT FVLGGCRHKL VCAPAPCNFF TSA</text>
<text y="114">CVFKDW--EE SGEELRL-KV FVLGGCRHKL VCSPAPCNFF TSA</text>
<text y="149.4">LLLVEW--EE EGLTPRL-CT YLVTGCAHKT LHTR------ ---</text>
<text y="184.8">LLLAEW--EE EGLTPRL-CT YLLSGCAHKT LYPC------ ---</text>
<text y="220.2">LLLVEW--EE EGLTPRL-CT YLVTGCAHKT LHTR------ ---</text>
<text y="255.6">LLLVEW--EE EGLTPRL-CT YLVTGSAHQT LHNR------ ---</text>
<text y="291">QLLTKW--EE GSIDPRL-SI FVLGGCRHKC MRLL------ ---</text>
<text y="326.4">ELWTQW--EE NGWSDRI-YT YVLGGCRHKW LYPL------ ---</text>
<text y="361.8">-----WTHHN ANNTHHL-WL MCYGGCRHK- ---------- ---</text>
<text y="397.2">LLFEEW--EE LGVEFRL-KV FVLGGCRHKL VCSVQPCIFF TSA</text>
<text y="432.6">CLFEQW--EE QGEEPRL-KV FVLGGCRHKL VGTASPCIFF TSA</text>
<text y="468">CVFKDW--EE LGEEIRL-KV FVLGGCRHKL VCSPAPCNFF TSA</text>
<text y="503.4">SLMNQW--EE QGLGERL-NT YVLGGCRHKL R--------- ---</text>
<text y="538.8">--------RE VG--PRIEYV LVAGGCRHKL Q--------- ---</text>
<text y="574.2">LLMNQW--EE TGWDDRI-IA YVLGGCRHKL R--------- ---</text>
</g>
<g class="lab" transform="translate(587,1.5) scale(1.127,1)">
<text y="7.8">HBV (genotype A) (LC488828.1)</text>
<text y="43.2">HBV (genotype D) (YP 009173867.1)</text>
<text y="78.6">HBV (genotype G) (BAD91282.1)</text>
<text y="114">HBV (genotype H) (BAJ15483.1)</text>
<text y="149.4">DCH (KT-116) (LC668427.1)</text>
<text y="184.8">DCH (Rara) (LC685967.1)</text>
<text y="220.2">DCH (Sydney) (MH307930.1)</text>
<text y="255.6">DCH (TR-SV15) (ON293153.1)</text>
<text y="291">WHV (NC 004107.1)</text>
<text y="326.4">Domestic donkey HBV (QMV34684.1)</text>
<text y="361.8">Asian gray shrew HBV (YP 010796421.1)</text>
<text y="397.2">Capuchin monkey HBV (YP 009666527.1)</text>
<text y="432.6">Woolly monkey HBV (YP 009175037.1)</text>
<text y="468">Orangutan HBV (AAF33122.1)</text>
<text y="503.4">Horseshoe bat HBV (YP 009045997.1)</text>
<text y="538.8">Tent-making bat HBV (NC 024445.1)</text>
<text y="574.2">Pomona bat HBV (YP 009506648.1)</text>
</g>
<g class="num" transform="translate(1748,0) scale(1.15,1)">
<text y="7.8">154</text><text y="43.2">154</text><text y="78.6">154</text><text y="114">154</text><text y="149.4">145</text><text y="184.8">145</text><text y="220.2">145</text><text y="255.6">145</text><text y="291">141</text><text y="326.4">141</text><text y="361.8">135</text><text y="397.2">153</text><text y="432.6">152</text><text y="468">154</text><text y="503.4">141</text><text y="538.8">135</text><text y="574.2">142</text>
</g>
<g class="rul">
<path d="M1106.8 -41V-23.5M1627.1 -41V-23.5"/>
<text transform="translate(1106.8 -45.5) scale(1.12 1)">140</text>
<text transform="translate(1627.1 -45.5) scale(1.12 1)">160</text>
</g>
</g>

<g id="tree-edges" class="tree">
<path d="M1126 2332H1043V2406.6H1126"/>
<path d="M1126 2481.2H1043V2555.8H1126"/>
<path d="M1043 2369.3H956V2518.5H1043"/>
<path d="M956 2443.9H870V2630.4H1126"/>
<path d="M870 2537.15H782V2705H1126"/>
<path d="M782 2621.1H696V2779.6H1126"/>
<path d="M1126 2854.2H1043V2928.8H1126"/>
<path d="M696 2700.35H607V2891.5H1043"/>
<path d="M607 2795.9H521V3003.4H1126"/>
<path d="M1126 3078H1043V3152.6H1126"/>
<path d="M1043 3115.3H956V3227.2H1126"/>
<path d="M1126 3451H1043V3525.6H1126"/>
<path d="M1126 3376.4H956V3488.3H1043"/>
<path d="M1126 3301.8H870V3432.35H956"/>
<path d="M956 3171.25H782V3367.1H870"/>
<path d="M521 2899.65H433V3269.2H782"/>
</g>
<g class="leaf">
<g id="leaf-hbv-a"><text x="1145" y="2347">HBV (genotype A) (LC488828.1)</text></g>
<g id="leaf-hbv-d"><text x="1145" y="2421.6">HBV (genotype D) (YP 009173867.1)</text></g>
<g id="leaf-hbv-h"><text x="1145" y="2496.2">HBV (genotype H) (BAJ15483.1)</text></g>
<g id="leaf-orangutan"><text x="1145" y="2570.8">Orangutan HBV (AAF33122.1)</text></g>
<g id="leaf-hbv-g"><text x="1145" y="2645.4">HBV (genotype G) (BAD91282.1)</text></g>
<g id="leaf-capuchin"><text x="1145" y="2720">Capuchin monkey HBV (YP 009666527.1)</text></g>
<g id="leaf-woolly"><text x="1145" y="2794.6">Woolly monkey HBV (YP 009175037.1)</text></g>
<g id="leaf-shrew"><text x="1145" y="2869.2">Asian gray shrew HBV (YP 010796421.1)</text></g>
<g id="leaf-tent"><text x="1145" y="2943.8">Tent-making bat HBV (NC 024445.1)</text></g>
<g id="leaf-donkey"><text x="1145" y="3018.4">Domestic donkey HBV(QMV34684.1)</text></g>
<g id="leaf-pomona"><text x="1145" y="3093">Pomona bat HBV (YP 009506648.1)</text></g>
<g id="leaf-whv"><text x="1145" y="3167.6">WHV (NC 004107.1)</text></g>
<g id="leaf-horseshoe"><text x="1145" y="3242.2">Horseshoe bat HBV (YP 009045997.1)</text></g>
<g id="leaf-rara"><text x="1145" y="3316.8">DCH (Rara) (LC685967.1)</text></g>
<g id="leaf-trsv15"><text x="1145" y="3391.4">DCH (TR-SV15) (ON293153.1)</text></g>
<g id="leaf-kt116"><text x="1145" y="3466">DCH (KT-116) (LC668427.1)</text></g>
<g id="leaf-sydney"><text x="1145" y="3540.6">DCH (Sydney) (MH307930.1)</text></g>
</g>
</svg>
